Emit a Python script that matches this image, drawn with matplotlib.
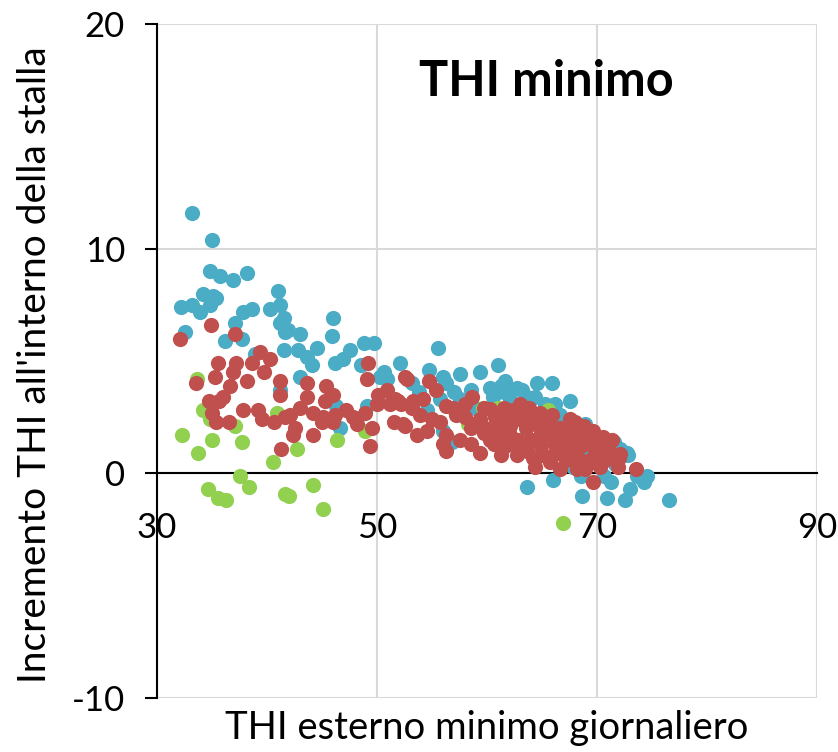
import matplotlib
matplotlib.use("Agg")
import matplotlib.pyplot as plt

plt.rcParams['font.family'] = ['Lato', 'DejaVu Sans']

# Stalla A (blu)
blue_x = [33.2, 35.0, 34.8, 35.7, 36.9, 38.2, 34.2, 35.1, 35.4, 32.2, 33.2, 33.9, 34.8, 32.5,
          37.1, 37.8, 38.6, 36.2, 37.7, 41.0, 40.3, 41.2, 41.2, 41.6, 41.5, 38.9, 41.2, 41.5,
          41.9, 43.0, 42.8, 43.6, 44.5, 44.1, 46.0, 45.9, 46.2, 46.9, 47.5, 48.8, 49.7, 48.5,
          43.0, 50.3, 50.9, 52.1, 46.3, 46.6, 49.1, 55.5, 54.7, 56.0, 57.5, 59.4, 61.0, 53.2,
          56.3, 60.3, 61.3, 55.7, 57.5, 58.9, 56.8, 56.0, 61.6, 63.2, 64.5, 65.9, 64.4, 66.2,
          67.5, 68.9, 63.6, 66.0, 68.5, 67.8, 71.3, 72.8, 74.1, 76.5, 72.5, 70.9, 68.6, 73.0,
          71.3, 70.6, 73.6, 69.4, 70.3, 71.6, 72.1, 69.8, 62.1, 63.0, 65.3, 66.6, 63.9, 50.6,
          53.8, 57.0, 58.0, 54.5, 74.3, 58.5, 62.7, 63.6, 60.5, 61.5, 71.5, 72.7, 74.5]
blue_y = [11.6, 10.4, 9.0, 8.8, 8.6, 8.9, 8.0, 7.9, 7.8, 7.4, 7.5, 7.2, 7.5, 6.3,
          6.7, 7.2, 7.3, 5.9, 6.0, 8.1, 7.3, 7.5, 6.7, 6.3, 5.5, 5.3, 3.7, 6.9,
          6.4, 6.2, 5.5, 5.2, 5.6, 4.8, 6.9, 6.1, 4.9, 5.1, 5.5, 5.8, 5.8, 4.8,
          4.3, 4.3, 4.2, 4.9, 3.0, 2.0, 3.0, 5.6, 4.6, 4.3, 4.4, 4.5, 4.8, 4.0,
          4.0, 3.8, 3.9, 3.3, 3.3, 2.9, 1.4, 1.9, 4.1, 3.7, 4.0, 4.0, 3.4, 3.1,
          3.2, 2.2, -0.6, -0.3, -0.1, 0.3, 1.3, 0.8, -0.2, -1.2, -1.2, -1.1, -1.0, -0.7,
          -0.4, -0.1, -0.1, 0.85, 0.6, 0.4, 1.1, 1.5, 3.3, 2.85, 3.1, 2.6, 2.7, 4.5,
          3.6, 3.6, 3.0, 2.8, -0.4, 3.7, 3.8, 3.4, 3.4, 3.6, 1.4, 0.9, -0.1]

# Stalla B (verde)
green_x = [32.3, 33.6, 34.2, 34.8, 33.7, 35.0, 37.1, 37.7, 40.5, 40.9, 42.7, 46.4, 48.9,
           34.6, 35.5, 36.3, 37.5, 38.4, 41.6, 42.0, 44.2, 45.1, 66.9, 58.3, 59.6, 61.0,
           65.5, 67.7]
green_y = [1.7, 4.2, 2.8, 2.4, 0.9, 1.5, 2.1, 1.4, 0.5, 2.7, 1.1, 1.5, 1.9,
           -0.7, -1.1, -1.2, -0.1, -0.6, -0.9, -1.0, -0.5, -1.6, -2.2, 2.2, 2.9, 2.9,
           2.8, 2.0]

# Stalla C (rossa)
red_x = [32.1, 34.9, 37.1, 39.4, 40.3, 38.6, 37.2, 35.5, 35.3, 33.5, 36.9, 38.2, 39.7, 41.2,
         41.2, 36.6, 36.0, 34.7, 35.6, 35.0, 35.4, 36.5, 37.8, 39.2, 39.5, 40.6, 41.6, 41.3,
         43.6, 45.4, 46.0, 45.3, 43.6, 49.2, 49.1, 50.9, 50.1, 52.5, 42.1, 43.0, 44.2, 45.1,
         46.2, 47.2, 47.8, 48.9, 49.5, 50.0, 51.2, 51.9, 51.5, 52.5, 42.5, 42.4, 44.2, 45.0,
         49.4, 48.2, 46.0, 52.7, 54.7, 55.4, 54.2, 52.2, 53.2, 53.9, 55.0, 55.7, 52.4, 53.6,
         54.5, 56.3, 56.0, 56.3, 56.9, 57.2, 58.6, 58.5, 59.7, 59.4, 59.7, 61.0, 60.9, 61.8,
         59.4, 60.6, 61.3, 61.9, 62.4, 63.8, 64.8, 65.9, 67.5, 68.0, 62.1, 63.5, 62.8, 61.6,
         64.2, 65.3, 66.5, 68.8, 68.5, 66.9, 66.0, 65.0, 63.6, 64.4, 65.7, 67.2, 68.2, 69.2,
         69.6, 62.7, 68.8, 69.1, 70.6, 71.2, 71.9, 73.5, 69.4, 70.3, 56.3, 51.6, 53.3,
         58.0, 58.9, 60.3, 61.6, 63.0, 63.9, 64.8, 65.7, 66.6, 67.5, 67.1, 68.0, 69.4, 69.8,
         70.7, 68.9, 66.2, 63.9, 62.1, 60.3, 58.5, 57.5, 58.0, 63.0, 70.5, 72.1, 71.4, 67.8,
         66.8, 69.0, 70.0, 64.6, 61.0,
         60.7, 63.3, 59.8, 65.5, 67.9, 69.6, 63.0, 64.9, 67.6, 71.0, 64.2, 68.3, 72.0, 66.6,
         61.5]
red_y = [6.0, 6.6, 6.2, 5.4, 5.1, 4.9, 4.9, 4.9, 4.3, 4.0, 4.5, 4.1, 4.5, 4.1,
         3.5, 3.9, 3.4, 3.2, 3.2, 2.7, 2.3, 2.3, 2.8, 2.8, 2.4, 2.3, 2.5, 1.1,
         4.0, 3.9, 3.5, 3.2, 3.4, 4.9, 4.2, 3.7, 3.5, 4.3, 2.6, 2.9, 2.7, 2.5,
         2.6, 2.8, 2.5, 2.7, 2.0, 3.1, 3.1, 3.2, 2.3, 2.1, 2.0, 1.7, 1.7, 2.3,
         1.2, 2.2, 2.3, 4.2, 4.1, 3.7, 3.3, 3.1, 2.9, 2.6, 2.4, 2.3, 2.2, 1.7,
         1.9, 1.7, 1.3, 1.0, 2.9, 2.6, 3.4, 2.0, 2.9, 2.4, 1.8, 2.6, 2.0, 2.3,
         0.9, 1.3, 0.8, 1.3, 2.8, 2.9, 2.7, 2.6, 2.4, 2.3, 2.1, 2.0, 1.5, 1.2,
         1.5, 1.7, 1.8, 1.7, 1.2, 1.2, 0.8, 0.8, 1.0, 0.3, 0.5, 0.6, 0.2, 0.4,
         -0.4, 0.8, 2.1, 1.4, 1.4, 0.9, 0.3, 0.2, 0.6, 0.3, 3.0, 3.3, 3.2,
         2.5, 2.2, 2.85, 2.6, 2.4, 2.2, 2.0, 2.2, 2.0, 1.5, 0.85, 1.1, 1.3, 0.85,
         0.6, 0.2, 1.3, 1.5, 1.7, 1.5, 1.3, 1.5, 3.1, 3.1, 1.6, 0.85, 1.5, 0.9,
         1.6, 1.9, 1.1, 2.5, 1.7,
         2.5, 2.6, 2.0, 1.9, 1.9, 1.9, 1.2, 1.2, 1.3, 1.1, 0.7, 0.7, 0.7, 0.2,
         2.9]

x_ticks = [30, 50, 70, 90]
y_ticks = [-10, 0, 10, 20]
y_tick_labels = ["-10", "0", "10", "20"]

title = "THI minimo"
x_label = "THI esterno minimo giornaliero"
y_label = "Incremento THI all'interno della stalla"

BLUE = "#4BACC6"
GREEN = "#92D050"
RED = "#C0504D"
GRID = "#D9D9D9"

W, H = 838, 752
fig = plt.figure(figsize=(W / 100, H / 100), dpi=100)
ax = fig.add_axes([157 / W, 1 - 698 / H, (817 - 157) / W, (698 - 24) / H])

ax.set_xlim(30, 90)
ax.set_ylim(-10, 20)

ms = 120
ax.scatter(blue_x, blue_y, s=ms, color=BLUE, linewidths=0, zorder=3)
ax.scatter(green_x, green_y, s=ms, color=GREEN, linewidths=0, zorder=3)
ax.scatter(red_x, red_y, s=ms, color=RED, linewidths=0, zorder=3)

# gridlines
ax.set_xticks(x_ticks)
ax.set_yticks(y_ticks)
ax.set_yticklabels(y_tick_labels)
ax.grid(True, color=GRID, linewidth=1.5)
ax.set_axisbelow(True)

for side in ("top", "right"):
    ax.spines[side].set_visible(False)
ax.spines["bottom"].set_position(("data", 0))
ax.spines["bottom"].set_linewidth(1.5)
ax.spines["left"].set_linewidth(1.5)
ax.spines["bottom"].set_zorder(2.6)
ax.spines["left"].set_zorder(2.6)

ax.tick_params(axis="x", length=0, pad=28, labelsize=25)
ax.tick_params(axis="y", length=9, width=1.5, direction="out", pad=14, labelsize=25)

ax.text(0.59, 0.915, title, transform=ax.transAxes, ha="center", va="center",
        fontsize=35, fontweight="bold")

fig.text(487 / W, 1 - 728 / H, x_label, ha="center", va="center", fontsize=27.5)
fig.text(35 / W, 1 - 365 / H, y_label, ha="center", va="center", rotation=90, fontsize=28)

fig.savefig("out.png", dpi=100)
